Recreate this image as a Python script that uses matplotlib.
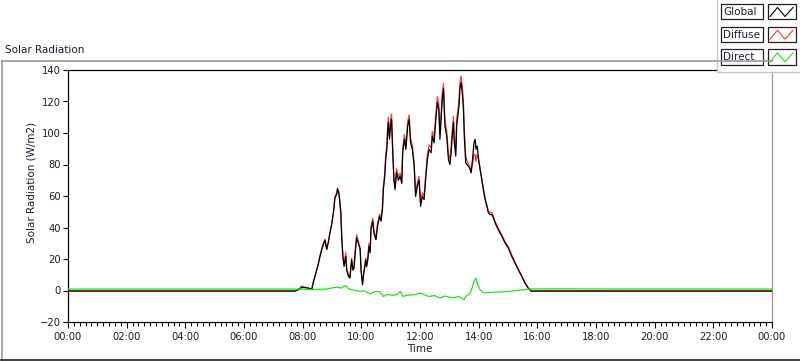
import matplotlib
matplotlib.use("Agg")
import matplotlib.pyplot as plt
from matplotlib.patches import Rectangle
from matplotlib.ticker import MultipleLocator, FuncFormatter

# time in decimal hours
global_t = [0.0, 7.74, 7.85, 7.97, 8.10, 8.20, 8.31, 8.36, 8.42, 8.48, 8.53, 8.59, 8.65, 8.70,
            8.76, 8.82, 8.88, 8.93, 8.99, 9.05, 9.10, 9.16, 9.19, 9.24, 9.30, 9.33, 9.37, 9.41,
            9.47, 9.50, 9.56, 9.61, 9.67, 9.71, 9.75, 9.79, 9.84, 9.90, 9.96, 9.99, 10.04, 10.07,
            10.10, 10.15, 10.18, 10.22, 10.26, 10.30, 10.33, 10.39, 10.43, 10.50, 10.55, 10.62,
            10.67, 10.72, 10.75, 10.80, 10.83, 10.87, 10.89, 10.92, 10.96, 11.00, 11.03, 11.07,
            11.11, 11.15, 11.20, 11.26, 11.32, 11.38, 11.41, 11.47, 11.52, 11.58, 11.63, 11.68,
            11.74, 11.80, 11.85, 11.91, 11.97, 12.02, 12.08, 12.14, 12.19, 12.25, 12.31, 12.38,
            12.42, 12.48, 12.54, 12.59, 12.64, 12.68, 12.72, 12.76, 12.80, 12.85, 12.91, 12.97,
            13.02, 13.06, 13.10, 13.14, 13.17, 13.22, 13.25, 13.29, 13.33, 13.36, 13.40, 13.44,
            13.48, 13.51, 13.56, 13.60, 13.65, 13.71, 13.74, 13.79, 13.84, 13.88, 13.91, 13.95,
            14.00, 14.05, 14.11, 14.16, 14.22, 14.28, 14.33, 14.39, 14.45, 14.50, 14.56, 14.67,
            14.79, 14.90, 15.01, 15.13, 15.24, 15.35, 15.47, 15.58, 15.69, 15.79, 24.0]

global_v = [-0.3, -0.3, 0.5, 2.1, 1.8, 1.5, 0.8, 5.0, 8.9, 13.0, 16.4, 21.7, 26.0, 29.0,
            32.0, 26.0, 31.0, 36.5, 42.0, 49.5, 58.8, 61.0, 64.5, 61.0, 49.5, 34.0, 21.6, 15.3,
            21.6, 13.0, 9.0, 7.9, 19.5, 13.0, 14.0, 23.8, 33.4, 30.0, 26.0, 13.0, 3.6, 9.0,
            13.0, 19.5, 15.0, 19.5, 28.0, 23.8, 38.6, 44.0, 36.5, 32.3, 40.7, 47.0,
            44.0, 51.4, 64.0, 72.5, 83.0, 89.6, 98.0, 106.6, 96.0, 105.5, 108.6, 87.5,
            70.0, 64.0, 75.0, 70.0, 72.5, 68.0, 87.5, 96.0, 89.6, 104.4, 108.6, 93.8,
            89.6, 79.0, 59.8, 66.2, 70.0, 53.4, 59.8, 57.7, 70.0, 83.0, 89.6, 87.5,
            98.0, 93.8, 108.6, 119.4, 115.1, 96.0, 108.6, 121.6, 128.0, 104.4, 98.0, 83.0,
            80.0, 87.5, 98.0, 106.6, 93.8, 85.3, 104.4, 110.8, 117.1, 128.0, 132.0, 125.7,
            115.0, 98.0, 81.0, 80.0, 79.0, 76.8, 74.7, 83.0, 93.8, 96.0, 89.6, 91.7,
            83.0, 76.8, 70.0, 63.8, 57.7, 53.5, 49.3, 48.2, 48.2, 46.1, 42.9, 38.6,
            34.4, 30.2, 27.0, 21.6, 17.4, 13.2, 8.9, 4.7, 1.5, -0.3, -0.3]

diffuse_v = [-0.5, -0.5, 0.5, 2.8, 2.0, 1.5, 0.8, 5.0, 9.2, 13.3, 16.8, 22.0, 26.5, 29.6,
             32.4, 26.4, 31.5, 37.0, 42.5, 50.0, 59.5, 62.0, 65.0, 62.0, 50.5, 35.5, 23.0, 17.0,
             24.0, 14.5, 10.0, 8.5, 20.5, 13.8, 15.0, 25.0, 35.5, 31.0, 27.0, 13.5, 4.0, 9.5,
             13.8, 20.5, 16.0, 21.0, 30.0, 25.5, 40.5, 46.0, 38.0, 33.5, 42.0, 48.5,
             45.5, 53.5, 66.5, 75.0, 86.0, 92.5, 101.0, 110.0, 99.0, 109.0, 112.0, 90.5,
             72.5, 66.0, 77.5, 72.0, 74.5, 70.0, 90.0, 99.0, 92.5, 107.5, 111.5, 96.5,
             92.0, 81.5, 62.0, 68.5, 72.5, 55.5, 62.0, 60.0, 72.5, 86.0, 92.5, 90.5,
             101.0, 97.0, 112.0, 123.0, 119.0, 99.5, 112.0, 125.5, 131.5, 108.0, 101.5, 86.5,
             83.5, 91.5, 102.0, 110.5, 97.5, 89.0, 108.5, 115.0, 121.0, 132.0, 136.2, 130.0,
             120.0, 103.0, 85.0, 82.5, 80.5, 78.0, 75.0, 80.0, 86.5, 86.0, 82.0, 86.5,
             82.5, 77.0, 70.8, 65.0, 59.0, 54.5, 50.5, 49.5, 49.5, 47.0, 44.0, 39.5,
             35.2, 31.0, 27.8, 22.4, 18.0, 13.8, 9.3, 5.0, 1.7, -0.5, -0.5]

direct_t = [0.0, 7.80, 8.00, 8.31, 8.50, 8.80, 9.05, 9.20, 9.30, 9.40, 9.47, 9.55, 9.67, 9.80,
            9.95, 10.10, 10.30, 10.45, 10.62, 10.75, 10.90, 11.05, 11.20, 11.33, 11.42, 11.55,
            11.80, 12.00, 12.15, 12.30, 12.50, 12.68, 12.85, 13.00, 13.15, 13.33, 13.50, 13.56,
            13.71, 13.79, 13.84, 13.91, 13.95, 14.05, 14.16, 14.40, 14.60, 14.80, 15.10, 15.47,
            15.79, 24.0]
direct_v = [0.9, 0.9, 0.9, 0.5, 0.7, 0.9, 1.8, 2.2, 1.5, 2.5, 3.2, 1.2, 0.5, 0.0,
            -0.5, -0.3, -2.1, -0.8, -0.6, -3.8, -2.5, -3.0, -2.7, -0.6, -3.8, -3.0,
            -2.7, -1.7, -2.7, -3.8, -3.2, -4.8, -3.5, -4.2, -4.5, -3.8, -5.9, -3.8,
            -1.7, 2.5, 5.7, 7.9, 4.7, 0.4, -1.3, -1.3, -1.0, -0.8, -0.5, 0.4,
            1.0, 0.9]

series_names = ["Global", "Diffuse", "Direct"]
series_colors = ["#000000", "#ff3a3a", "#1ee01e"]
text_color = "#1c1c30"

W, H = 800, 361
fig = plt.figure(figsize=(W / 100, H / 100), dpi=100)
plt.rcParams["font.family"] = ["DejaVu Sans"]

ax = fig.add_axes([68 / W, 1 - 322 / H, 704 / W, 252 / H])
ax.plot(global_t, diffuse_v, color=series_colors[1], lw=0.9, zorder=2)
ax.plot(global_t, global_v, color=series_colors[0], lw=0.9, zorder=3)
ax.plot(direct_t, direct_v, color=series_colors[2], lw=0.9, zorder=4)

ax.set_xlim(0, 24)
ax.set_ylim(-20, 140)
ax.xaxis.set_major_locator(MultipleLocator(2))
ax.xaxis.set_minor_locator(MultipleLocator(0.2))
ax.xaxis.set_major_formatter(FuncFormatter(lambda v, p: "%02d:00" % (int(round(v)) % 24)))
ax.yaxis.set_major_locator(MultipleLocator(20))
ax.tick_params(axis="x", which="major", length=4.5, width=0.8, pad=3, labelsize=7.2, labelcolor=text_color)
ax.tick_params(axis="x", which="minor", length=3, width=0.8)
ax.tick_params(axis="y", which="major", length=3.5, width=0.8, pad=1.5, labelsize=7.2, labelcolor=text_color)
for s in ["left", "top", "bottom"]:
    ax.spines[s].set_linewidth(0.9)
    ax.spines[s].set_color("black")
ax.spines["right"].set_color("#9a9a9a")
ax.spines["right"].set_linewidth(0.9)
ax.set_xlabel("Time", fontsize=7.5, color=text_color, labelpad=1)

# overlay in pixel coordinates for frame, title and legend
ov = fig.add_axes([0, 0, 1, 1], zorder=5)
ov.set_xlim(0, W)
ov.set_ylim(H, 0)
ov.axis("off")
ov.patch.set_alpha(0)
ov.plot([1.5, 1.5], [61, 360], color="#9a9a9a", lw=1.2)
ov.plot([1.5, 772], [61, 61], color="#9a9a9a", lw=1.2)
ov.plot([1, 800], [360, 360], color="#202020", lw=1.2)
ov.text(5, 50, "Solar Radiation", fontsize=7.5, color=text_color, va="center", ha="left")
ov.text(32, 182, "Solar Radiation (W/m2)", fontsize=7.5, color=text_color,
        rotation=90, va="center", ha="center")

# legend panel
ov.add_patch(Rectangle((717, -2), 90, 74, facecolor="white", edgecolor="#c8c8c8", lw=1.0))
rows_y = [4, 26.7, 49.3]
for name, color, y0 in zip(series_names, series_colors, rows_y):
    ov.add_patch(Rectangle((720.7, y0), 42.6, 15.3, facecolor="white", edgecolor="#202020", lw=0.9))
    ov.text(723, y0 + 7.8, name, fontsize=7.5, color=text_color, va="center", ha="left")
    ov.add_patch(Rectangle((767.7, y0), 28.3, 15.3, facecolor="white", edgecolor="#202020", lw=0.9))
    ov.plot([770, 777.5, 785, 793],
            [y0 + 12.5, y0 + 3.5, y0 + 12.5, y0 + 3.5], color=color, lw=0.8)

fig.savefig("out.png", dpi=100, facecolor="white")
